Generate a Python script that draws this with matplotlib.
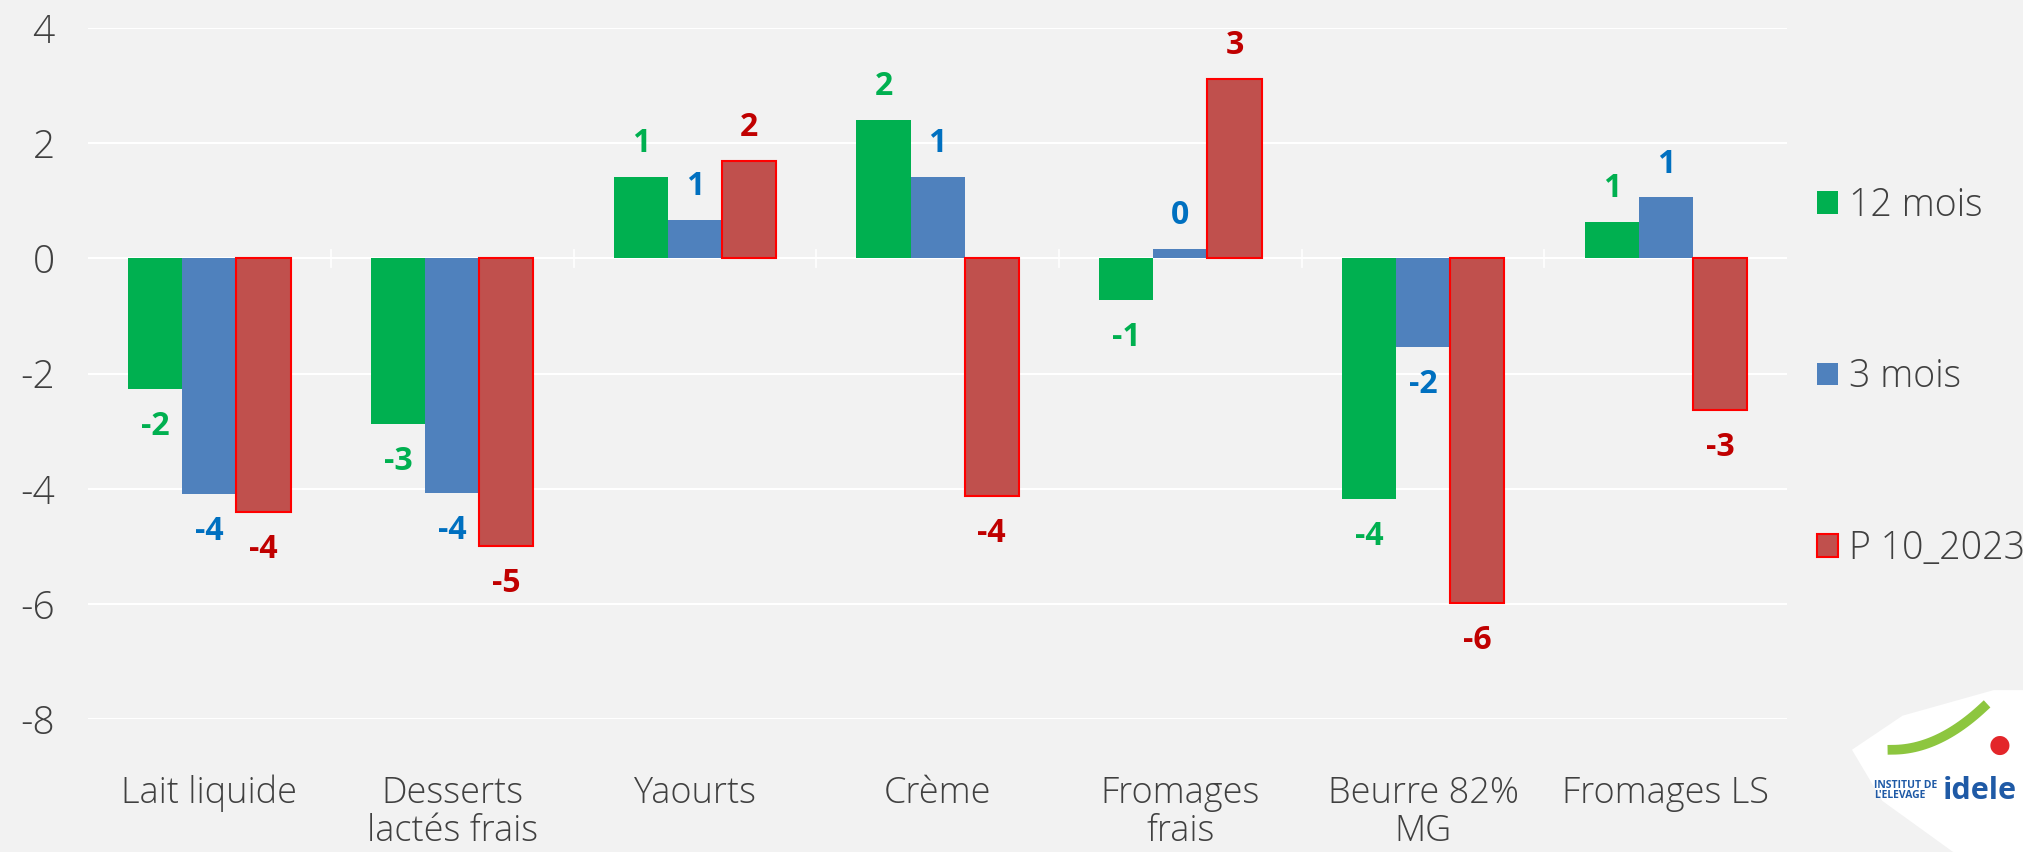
import matplotlib.pyplot as plt
import numpy as np
from matplotlib.patches import Polygon
from matplotlib.lines import Line2D

# data
categories = ['Lait liquide', 'Desserts\nlactés frais', 'Yaourts', 'Crème',
              'Fromages\nfrais', 'Beurre 82%\nMG', 'Fromages LS']
mois12 = [-2.27, -2.88, 1.42, 2.40, -0.72, -4.18, 0.63]
mois3 = [-4.09, -4.07, 0.67, 1.42, 0.16, -1.53, 1.06]
p10_2023 = [-4.40, -5.00, 1.69, -4.13, 3.12, -5.98, -2.63]
series_names = ['12 mois', '3 mois', 'P 10_2023']

plt.rcParams['font.family'] = ['Open Sans', 'DejaVu Sans']
plt.rcParams['axes.unicode_minus'] = False
bg = '#F2F2F2'

fig = plt.figure(figsize=(20.24, 8.52), dpi=100, facecolor=bg)
ax = fig.add_axes([0.0435, 0.156, 0.8395, 0.811])
ax.set_facecolor(bg)

x = np.arange(len(categories))
w = 0.223
fills = ['#00B050', '#4F81BD', '#C0504D']
edges = ['#00B050', '#4F81BD', '#FF0000']
lab_cols = ['#00B050', '#0070C0', '#C00000']

for k, vals in enumerate([mois12, mois3, p10_2023]):
    xs = x + (k - 1) * w
    ax.bar(xs, vals, width=w, color=fills[k], edgecolor=edges[k],
           linewidth=1.5 if k == 2 else 0, label=series_names[k], zorder=3)
    for xi, v in zip(xs, vals):
        off = 24 if v >= 0 else -27
        ax.annotate('%d' % round(v), (xi, v), xytext=(0, off),
                    textcoords='offset points', ha='center', va='center',
                    fontsize=23, fontweight='bold', color=lab_cols[k])

ax.set_ylim(-8, 4)
ax.set_yticks(np.arange(-8, 5, 2))
ax.set_xlim(-0.5, len(categories) - 0.5)
ax.set_xticks(x)
ax.set_xticklabels(categories, fontsize=26, color='#404040', linespacing=1.05,
                   fontweight='light')
for t in ax.get_yticklabels():
    t.set_fontweight('light')
ax.tick_params(axis='y', labelsize=28, labelcolor='#404040', length=0, pad=24)
ax.tick_params(axis='x', length=0, pad=40)
ax.grid(axis='y', color='white', linewidth=1.5, zorder=0)
for s in ax.spines.values():
    s.set_visible(False)
ax.axhline(0, color='white', linewidth=1.5, zorder=1)
for b in np.arange(0.5, len(categories) - 0.5):
    ax.plot([b, b], [-0.15, 0.15], color='white', linewidth=1.2, zorder=1)

leg = ax.legend(loc='center left', bbox_to_anchor=(1.0, 0.495), frameon=False,
                fontsize=27, labelspacing=3.55, handlelength=0.55,
                handleheight=0.55, handletextpad=0.3, labelcolor='#404040',
                borderaxespad=0.4)
for t in leg.get_texts():
    t.set_fontweight('light')

# logo corner
logo = Polygon([[0.915, 0.12], [0.94, 0.16], [0.985, 0.19], [1.0, 0.19],
                [1.0, 0.0], [0.965, 0.0], [0.93, 0.06]], closed=True,
               transform=fig.transFigure, facecolor='white', edgecolor='none')
fig.patches.append(logo)
t_arc = np.linspace(0, 1, 30)
fig.lines.append(Line2D(0.935 + 0.045 * t_arc, 0.12 + 0.05 * t_arc ** 2,
                        transform=fig.transFigure, color='#8DC63F', lw=7))
fig.text(0.926, 0.072, "INSTITUT DE\nL'ELEVAGE", fontsize=7.5,
         fontweight='bold', color='#1F5AA6', ha='left', va='center',
         linespacing=0.95)
fig.text(0.96, 0.072, 'idele', fontsize=22, fontweight='bold',
         color='#1F5AA6', ha='left', va='center')
fig.text(0.988, 0.125, '●', fontsize=18, color='#E3262A', ha='center',
         va='center')

fig.savefig('out.png', dpi=100, facecolor=bg)
